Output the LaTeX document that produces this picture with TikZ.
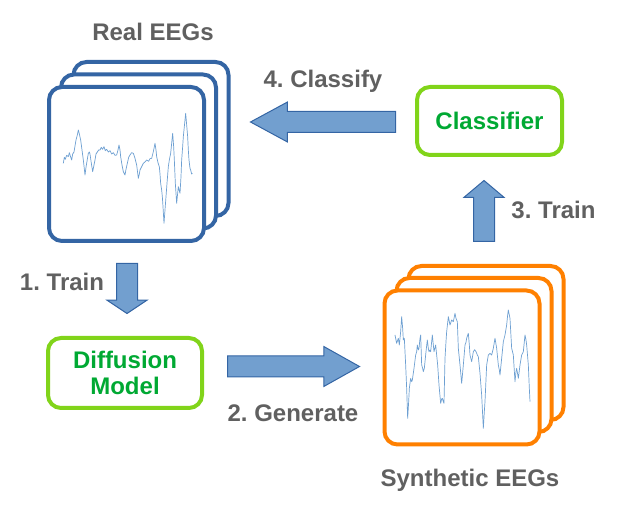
\documentclass[tikz,border=0pt]{standalone}
\usepackage{fontspec}
\setmainfont{Liberation Sans}
\usetikzlibrary{shapes.arrows}
\definecolor{eegblue}{RGB}{52,101,164}
\definecolor{eegorange}{RGB}{255,128,0}
\definecolor{boxgreen}{RGB}{129,212,26}
\definecolor{textgreen}{RGB}{0,169,51}
\definecolor{labelgray}{RGB}{96,96,96}
\definecolor{arrowfill}{RGB}{114,159,207}
\definecolor{arrowline}{RGB}{52,101,164}
\definecolor{tracecol}{RGB}{110,160,210}
\frenchspacing

\begin{document}
\begin{tikzpicture}[
    x=0.5pt, y=-0.5pt,
    card/.style={draw, line width=2pt, rounded corners=6.5pt, fill=white, minimum width=77.5pt, minimum height=77pt},
    modelbox/.style={draw=boxgreen, line width=2pt, rounded corners=6.5pt, fill=white, align=center, text=textgreen, font=\fontsize{12}{13}\selectfont\bfseries},
    steplabel/.style={anchor=base, text=labelgray, font=\fontsize{12}{14}\selectfont\bfseries},
    flow/.style={single arrow, draw=arrowline, fill=arrowfill, line width=0.5pt, inner sep=0pt, text height=10pt, text depth=0pt, single arrow head extend=4.75pt, anchor=tail},
    trace/.style={draw=tracecol, line width=0.35pt, line join=round}
]
    \useasboundingbox (0,0) rectangle (617,513);

    % --- Real EEGs (top left) ---
    \node[steplabel] (lblreal) at (153,41) {Real EEGs};
    \node[card, draw=eegblue] (realback) at (151,139) {};
    \node[card, draw=eegblue] (realmid) at (138.5,151.5) {};
    \node[card, draw=eegblue] (realfront) at (126.5,164) {};
    \begin{scope}[shift={(40,50)}, scale=1/3]
        \draw[trace] plot coordinates {(70,340) (73,322) (76,328) (80,316) (85,320) (88,308) (91,318) (95,330) (98,312) (102,306)
            (108,270) (112,255) (115,240) (118,252) (122,270) (126,300) (130,330) (135,375) (138,352) (140,340) (145,310)
            (148,306) (150,312) (154,340) (158,365) (162,345) (165,330) (168,312) (172,306) (176,300) (180,300) (184,292)
            (188,298) (192,290) (196,302) (200,298) (205,306) (210,302) (215,312) (220,308) (225,316) (230,315) (234,300)
            (237,285) (240,300) (242,320) (246,345) (250,365) (255,375) (258,358) (262,340) (266,322) (270,315) (275,308)
            (280,310) (285,325) (290,345) (295,385) (298,372) (300,360) (305,350) (310,340) (315,336) (320,330) (326,334)
            (330,326) (335,325) (340,305) (345,280) (348,300) (350,320) (354,338) (358,350) (360,372) (362,400) (365,420)
            (367,440) (369,470) (372,520) (375,480) (378,440) (381,400) (385,350) (388,330) (392,310) (395,280) (398,250)
            (401,290) (403,330) (406,400) (410,460) (413,430) (415,410) (418,422) (420,430) (423,380) (425,330) (428,290)
            (430,260) (434,220) (437,190) (440,225) (443,260) (445,300) (447,330) (450,355) (452,360) (455,372) (457,370)};
    \end{scope}

    % --- Synthetic EEGs (bottom right) ---
    \node[card, draw=eegorange] (synback) at (486,343) {};
    \node[card, draw=eegorange] (synmid) at (474,355) {};
    \node[card, draw=eegorange] (synfront) at (462,367.5) {};
    \node[steplabel] (lblsyn) at (470,487) {Synthetic EEGs};
    \begin{scope}[shift={(370,255)}, scale=1/3]
        \draw[trace] plot coordinates {(75,240) (80,265) (85,250) (88,270) (92,230) (95,185) (98,220) (100,255) (103,250)
            (107,330) (110,400) (113,490) (116,440) (118,400) (122,370) (125,380) (127,375) (132,340) (137,300) (140,290)
            (142,270) (145,285) (147,280) (150,250) (152,240) (155,330) (158,340) (160,350) (163,340) (168,290) (172,255)
            (175,280) (177,290) (180,285) (182,290) (185,260) (187,240) (190,270) (192,290) (197,270) (200,300) (203,330)
            (207,390) (212,445) (215,432) (217,430) (220,440) (222,445) (225,310) (228,260) (230,230) (235,185) (238,200)
            (240,210) (245,195) (250,200) (255,175) (258,190) (262,200) (265,280) (270,330) (275,385) (280,330) (285,270)
            (288,262) (290,250) (295,235) (298,270) (300,300) (305,320) (310,290) (314,284) (318,290) (322,300) (325,305)
            (330,355) (335,420) (338,480) (340,520) (343,470) (345,440) (350,330) (355,300) (360,295) (365,300) (370,280)
            (375,250) (380,280) (385,330) (388,345) (390,360) (395,310) (400,260) (405,240) (410,210) (413,180) (415,165)
            (418,180) (420,190) (425,280) (430,300) (435,380) (438,350) (440,340) (445,370) (450,330) (455,300) (460,290)
            (465,240) (468,255) (470,270) (475,330) (478,400) (480,440)};
    \end{scope}

    % --- Models ---
    \node[modelbox, minimum width=72.5pt, minimum height=34pt] (classifier) at (489.5,121) {Classifier};
    \node[modelbox, minimum width=77pt, minimum height=35pt] (diffusion) at (125,373) {Diffusion\\Model};

    % --- Steps ---
    \node[flow, rotate=-90, minimum height=25pt, single arrow tip angle=112.6] (trainarrow) at (127,263) {};
    \node[steplabel] (lbltrain) at (62,291) {1. Train};
    \node[flow, minimum height=66pt, single arrow tip angle=58.5] (genarrow) at (227,366.5) {};
    \node[steplabel] (lblgen) at (293,422) {2. Generate};
    \node[flow, rotate=90, minimum height=30.5pt, single arrow tip angle=99.8] (trainclsarrow) at (484,242) {};
    \node[steplabel] (lbltraincls) at (553.5,219) {3. Train};
    \node[flow, rotate=180, minimum height=72.5pt, single arrow tip angle=56.8] (clsarrow) at (396,122) {};
    \node[steplabel] (lblcls) at (323,88) {4. Classify};
\end{tikzpicture}
\end{document}
